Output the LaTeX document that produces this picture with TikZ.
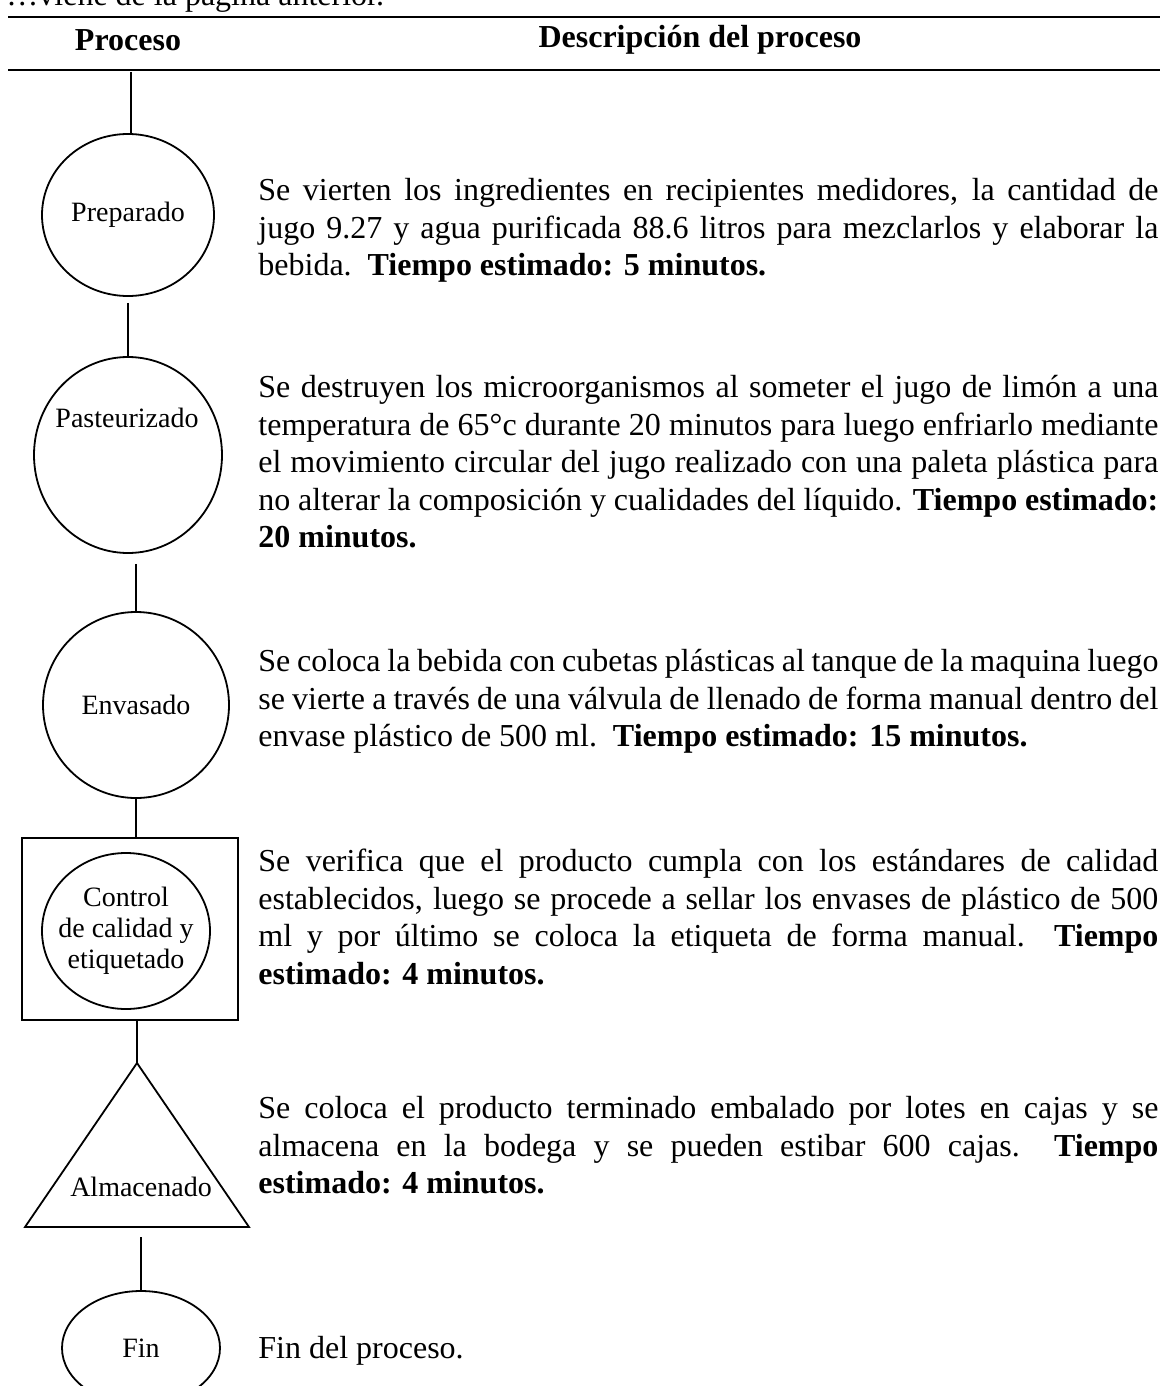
\documentclass[tikz,border=0pt]{standalone}
\usepackage{fontspec}
\setmainfont{Liberation Serif}
\usetikzlibrary{shapes.geometric,positioning}
\tolerance=10000
\hyphenpenalty=10000
\tikzset{
  every node/.style={font=\fontsize{16}{18.75}\selectfont,inner sep=0pt},
  rule/.style={line width=1pt},
  link/.style={line width=0.7pt},
  proc/.style={draw,ellipse,line width=0.9pt,inner sep=0pt},
  frame/.style={draw,rectangle,line width=0.9pt},
  tri/.style={draw,line width=0.9pt,line join=miter},
  head/.style={font=\fontsize{16}{18}\selectfont\bfseries},
  lbl/.style={font=\fontsize{14}{15.5}\selectfont,align=center},
  desc/.style={anchor=north west,text width=450pt,align=justify},
}

\begin{document}
\begin{tikzpicture}[x=0.5pt,y=-0.5pt]
\useasboundingbox (0,0) rectangle (1160,1386);
\clip (0,0) rectangle (1160,1386);

% continued-from line and header rules
\node[anchor=base west] (cont) at (6,6) {\dots viene de la página anterior.};
\draw[rule] (8,17) -- (1160,17);
\node[head] (hproc) at (128,40) {Proceso};
\node[head] (hdesc) at (700,40) {Descripción del proceso};
\draw[rule] (8,70) -- (1160,70);

% process symbols
\coordinate (top) at (131,72);
\node[proc,minimum width=86pt,minimum height=81pt] (prep) at (128,215) {};
\node[lbl] (preplbl) at (prep.center) {Preparado};
\node[proc,minimum width=94pt,minimum height=98pt] (past) at (128,455) {};
\node[lbl] (pastlbl) at (127,418) {Pasteurizado};
\node[proc,minimum width=93pt,minimum height=93pt] (env) at (136,705) {};
\node[lbl] (envlbl) at (env.center) {Envasado};
\node[frame,minimum width=108pt,minimum height=91pt] (ctrlbox) at (130,929) {};
\node[proc,minimum width=84pt,minimum height=78pt] (ctrl) at (126,931) {};
\node[lbl] (ctrllbl) at (ctrl.center) {Control\\de calidad y\\etiquetado};
\coordinate (almtop) at (137,1063);
\coordinate (almleft) at (25,1227);
\coordinate (almright) at (249,1227);
\draw[tri] (almtop) -- (almright) -- (almleft) -- cycle;
\node[lbl] (alm) at (141,1187) {Almacenado};
\node[proc,minimum width=79pt,minimum height=57pt] (fin) at (141,1348) {};
\node[lbl] (finlbl) at (fin.center) {Fin};

% connectors
\draw[link] (top) -- (prep.north -| top);
\draw[link,shorten <=3pt] (prep.south -| past.north) -- (past.north);
\draw[link,shorten <=5pt] (past.south -| env.north) -- (env.north);
\draw[link] (env.south) -- (ctrlbox.north -| env.south);
\draw[link] (ctrlbox.south -| almtop) -- (almtop);
\draw[link,shorten <=5pt] (almleft -| fin.north) -- (fin.north);

% descriptions
\node[desc] (dprep) at (258,178) {Se vierten los ingredientes en recipientes medidores, la cantidad de\linebreak
jugo 9.27 y agua purificada 88.6 litros para mezclarlos y elaborar la\linebreak
bebida.\ \ \textbf{Tiempo estimado: 5 minutos.}};
\node[desc] (dpast) at (258,375) {Se destruyen los microorganismos al someter el jugo de limón a una\linebreak
temperatura de 65°c durante 20 minutos para luego enfriarlo mediante\linebreak
el movimiento circular del jugo realizado con una paleta plástica para\linebreak
no alterar la composición y cualidades del líquido. \textbf{Tiempo estimado:}\linebreak
\textbf{20 minutos.}};
\node[desc] (denv) at (258,649) {Se coloca la bebida con cubetas plásticas al tanque de la maquina luego\linebreak
se vierte a través de una válvula de llenado de forma manual dentro del\linebreak
envase plástico de 500 ml.\ \ \textbf{Tiempo estimado: 15 minutos.}};
\node[desc] (dctrl) at (258,849) {Se verifica que el producto cumpla con los estándares de calidad\linebreak
establecidos, luego se procede a sellar los envases de plástico de 500\linebreak
ml y por último se coloca la etiqueta de forma manual.\ \ \textbf{Tiempo}\linebreak
\textbf{estimado: 4 minutos.}};
\node[desc] (dalm) at (258,1096) {Se coloca el producto terminado embalado por lotes en cajas y se\linebreak
almacena en la bodega y se pueden estibar 600 cajas.\ \ \textbf{Tiempo}\linebreak
\textbf{estimado: 4 minutos.}};
\node[desc] (dfin) at (258,1336) {Fin del proceso.};

\end{tikzpicture}
\end{document}
